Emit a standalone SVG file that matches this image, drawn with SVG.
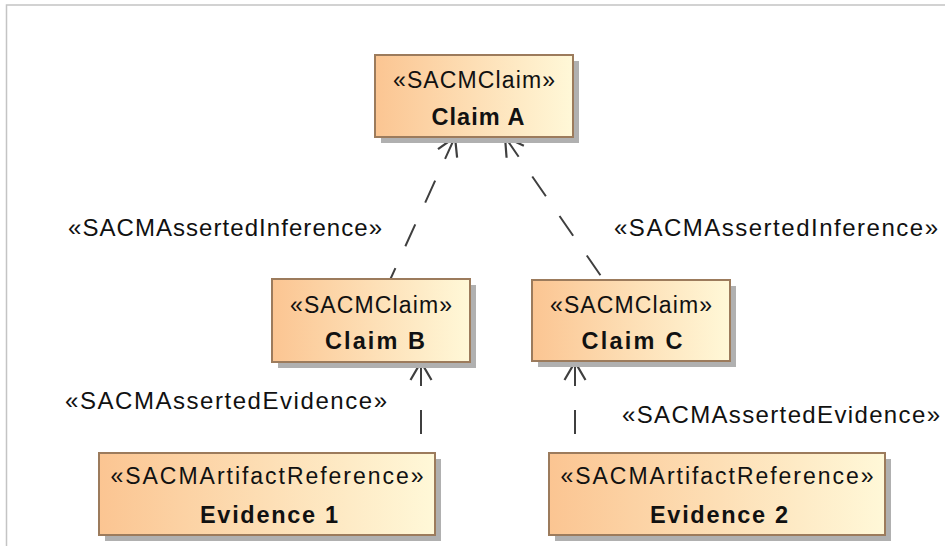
<svg xmlns="http://www.w3.org/2000/svg" width="945" height="546" viewBox="0 0 945 546">
  <style>
    .frame { fill: none; stroke: #c4c4c4; stroke-width: 1.5; }
    .shadow { fill: #b0b0b0; }
    .box { fill: url(#boxGrad); stroke: #9c7b5c; stroke-width: 2; }
    .st { font-family: "Liberation Sans", Arial, sans-serif; font-size: 23px; fill: #111; text-anchor: middle; }
    .nm { font-family: "Liberation Sans", Arial, sans-serif; font-size: 23.5px; font-weight: bold; fill: #111; text-anchor: middle; }
    .lbl { font-family: "Liberation Sans", Arial, sans-serif; font-size: 24px; fill: #111; }
    .dep { fill: none; stroke: #3f3f3f; stroke-width: 2; stroke-dasharray: 24 24; }
  </style>
  <defs>
    <linearGradient id="boxGrad" x1="0" y1="0" x2="1" y2="0">
      <stop offset="0" stop-color="#fbc592"/>
      <stop offset="1" stop-color="#fff8d8"/>
    </linearGradient>
    <marker id="openArrow" markerUnits="userSpaceOnUse" markerWidth="26" markerHeight="26" viewBox="-22 -13 26 26" refX="0" refY="0" orient="auto-start-reverse">
      <path d="M -18 -10.5 L 0 0 L -18 10.5" fill="none" stroke="#3f3f3f" stroke-width="2.2" stroke-linejoin="miter"/>
    </marker>
  </defs>

  <polyline class="frame" points="945,5 6.5,5 6.5,546"/>

  <g id="connectors">
    <path class="dep" d="M 455 137 L 390 280" marker-start="url(#openArrow)"/>
    <path class="dep" d="M 505 137 L 603 279" marker-start="url(#openArrow)"/>
    <path class="dep" d="M 421 362 L 421 453" marker-start="url(#openArrow)"/>
    <path class="dep" d="M 575 362 L 575 453" marker-start="url(#openArrow)"/>
    <text class="lbl" x="68" y="236" textLength="314" lengthAdjust="spacing">«SACMAssertedInference»</text>
    <text class="lbl" x="614" y="236" textLength="324" lengthAdjust="spacing">«SACMAssertedInference»</text>
    <text class="lbl" x="65" y="409" textLength="322" lengthAdjust="spacing">«SACMAssertedEvidence»</text>
    <text class="lbl" x="622" y="423" textLength="318" lengthAdjust="spacing">«SACMAssertedEvidence»</text>
  </g>

  <g id="claimA">
    <rect class="shadow" x="381" y="61" width="198" height="82"/>
    <rect class="box" x="375" y="55" width="198" height="82"/>
    <text class="st" x="474" y="88" textLength="162" lengthAdjust="spacing">«SACMClaim»</text>
    <text class="nm" x="478" y="125" textLength="93" lengthAdjust="spacing">Claim A</text>
  </g>

  <g id="claimB">
    <rect class="shadow" x="278" y="285" width="198" height="83"/>
    <rect class="box" x="272" y="279" width="198" height="83"/>
    <text class="st" x="371" y="313" textLength="162" lengthAdjust="spacing">«SACMClaim»</text>
    <text class="nm" x="375" y="349" textLength="100" lengthAdjust="spacing">Claim B</text>
  </g>

  <g id="claimC">
    <rect class="shadow" x="538" y="286" width="198" height="81"/>
    <rect class="box" x="532" y="280" width="198" height="81"/>
    <text class="st" x="631" y="313" textLength="162" lengthAdjust="spacing">«SACMClaim»</text>
    <text class="nm" x="632" y="349" textLength="101" lengthAdjust="spacing">Claim C</text>
  </g>

  <g id="evidence1">
    <rect class="shadow" x="105" y="459" width="336" height="82"/>
    <rect class="box" x="99" y="453" width="336" height="82"/>
    <text class="st" x="267" y="484" textLength="313" lengthAdjust="spacing">«SACMArtifactReference»</text>
    <text class="nm" x="269" y="523" textLength="138" lengthAdjust="spacing">Evidence 1</text>
  </g>

  <g id="evidence2">
    <rect class="shadow" x="555" y="459" width="336" height="82"/>
    <rect class="box" x="549" y="453" width="336" height="82"/>
    <text class="st" x="717" y="484" textLength="313" lengthAdjust="spacing">«SACMArtifactReference»</text>
    <text class="nm" x="719" y="523" textLength="138" lengthAdjust="spacing">Evidence 2</text>
  </g>
</svg>
